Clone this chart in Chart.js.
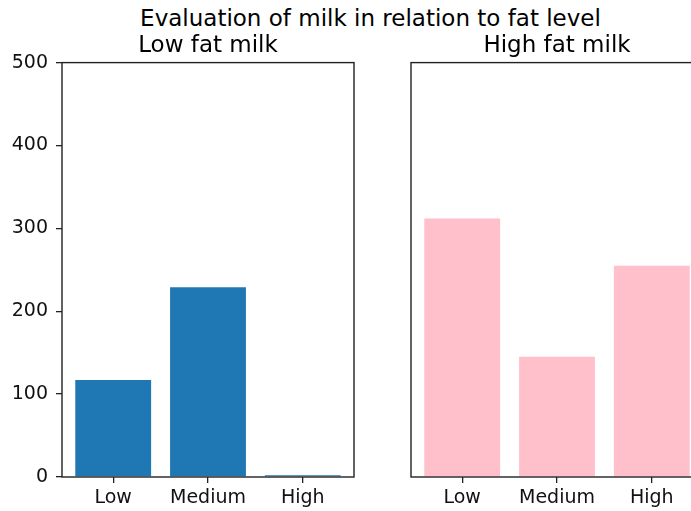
<!DOCTYPE html>
<html>
<head>
<meta charset="utf-8">
<script src="https://cdn.jsdelivr.net/npm/chart.js@4/dist/chart.umd.min.js"></script>
<style>
  html, body { margin: 0; padding: 0; width: 691px; height: 511px; overflow: hidden; background: #fff; }
  #suptitle { position: absolute; left: 0; top: 5px; width: 741px; text-align: center;
    font: 23px 'DejaVu Sans'; line-height: 26px; color: #000; }
  canvas { position: absolute; top: 0; }
  #lowChart { left: 0; }
  #highChart { left: 349px; }
</style>
</head>
<body>
<div id="suptitle">Evaluation of milk in relation to fat level</div>
<canvas id="lowChart" width="360" height="511"></canvas>
<canvas id="highChart" width="360" height="511"></canvas>
<script>
// categories and values
const categories = ['Low', 'Medium', 'High'];
const lowFatValues = [117, 229, 2];
const highFatValues = [312, 145, 255];
const yTicks = [0, 100, 200, 300, 400, 500];

// draws the four spines round the plot area
const framePlugin = {
  id: 'frame',
  afterDatasetsDraw(chart) {
    const a = chart.chartArea;
    const ctx = chart.ctx;
    ctx.save();
    ctx.strokeStyle = '#222';
    ctx.lineWidth = 1.4;
    ctx.strokeRect(a.left, a.top, a.right - a.left, a.bottom - a.top);
    ctx.restore();
  }
};

function makeChart(id, title, values, color, showY) {
  return new Chart(document.getElementById(id), {
    type: 'bar',
    data: {
      datasets: [{
        data: values.map((v, i) => ({ x: i, y: v })),
        backgroundColor: color,
        borderWidth: 0,
        categoryPercentage: 1,
        barPercentage: 0.8
      }]
    },
    options: {
      responsive: false,
      animation: false,
      layout: { padding: { right: 6, left: 0, top: 0, bottom: 0 } },
      plugins: {
        legend: { display: false },
        tooltip: { enabled: false },
        title: {
          display: true,
          text: title,
          fullSize: false,
          color: '#000',
          font: { family: 'DejaVu Sans', size: 23, weight: 'normal' },
          padding: { top: 32, bottom: 3 }
        }
      },
      scales: {
        x: {
          type: 'linear',
          min: -0.54,
          max: 2.54,
          offset: false,
          afterBuildTicks: s => { s.ticks = categories.map((c, i) => ({ value: i })); },
          afterFit: s => { s.height = 34; },
          grid: { offset: false, drawOnChartArea: false, drawTicks: true, tickLength: 6, color: '#222', lineWidth: 1.3 },
          border: { display: false },
          ticks: {
            autoSkip: false,
            maxRotation: 0,
            padding: 4,
            color: '#111',
            font: { family: 'DejaVu Sans', size: 19 },
            callback: v => categories[v] ?? ''
          }
        },
        y: {
          min: 0,
          max: 500,
          afterBuildTicks: s => { s.ticks = yTicks.map(v => ({ value: v })); },
          afterFit: s => { s.width = 62; },
          grid: { drawOnChartArea: false, drawTicks: showY, tickLength: 6, color: '#222', lineWidth: 1.3 },
          border: { display: false },
          ticks: {
            display: showY,
            padding: 8,
            color: '#111',
            font: { family: 'DejaVu Sans', size: 19 }
          }
        }
      }
    },
    plugins: [framePlugin]
  });
}

makeChart('lowChart', 'Low fat milk', lowFatValues, '#1f77b4', true);
makeChart('highChart', 'High fat milk', highFatValues, '#ffc0cb', false);
</script>
</body>
</html>
